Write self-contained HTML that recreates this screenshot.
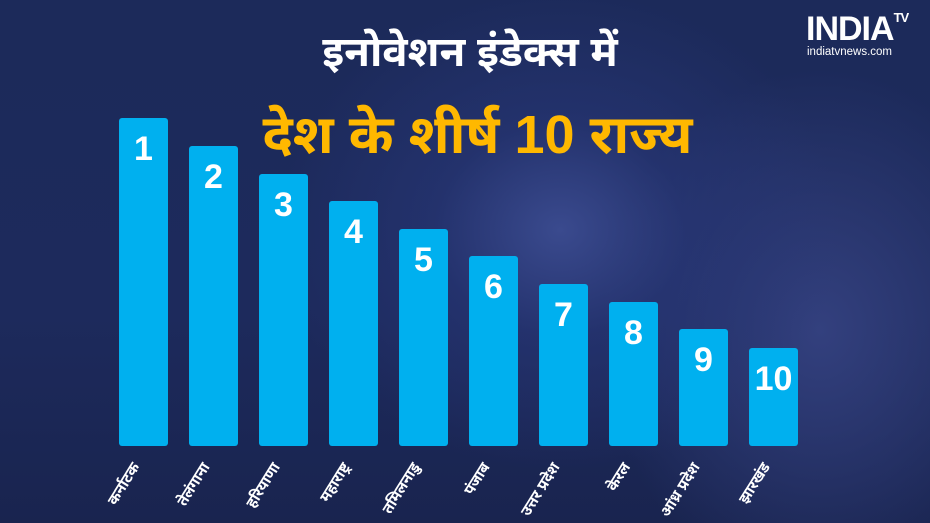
<!DOCTYPE html>
<html><head><meta charset="utf-8"><style>
body{margin:0;width:930px;height:523px;overflow:hidden;font-family:"Liberation Sans","Noto Sans Devanagari","Lohit Devanagari",sans-serif;}
#c{position:relative;width:930px;height:523px;background:radial-gradient(ellipse 280px 240px at 560px 230px,#3a4a8e 0%,rgba(40,55,120,0.6) 45%,rgba(28,40,90,0) 100%),radial-gradient(ellipse 220px 260px at 820px 330px,#33407e 0%,rgba(30,42,95,0) 100%),linear-gradient(180deg,#1c2a5a 0%,#1d2a5c 60%,#19244f 100%);}
.bar{position:absolute;width:49px;background:#00b0ef;border-radius:3px;color:#fff;font-weight:bold;font-size:34px;text-align:center;padding-top:12px;box-sizing:border-box;}
.lb{position:absolute;color:#fff;font-size:15px;font-weight:bold;transform:rotate(-58deg);transform-origin:right center;white-space:nowrap;text-align:right;}
.t1{position:absolute;top:28px;left:0;width:940px;text-align:center;color:#fff;font-size:42px;font-weight:bold;}
.t2{position:absolute;top:104px;left:0;width:955px;text-align:center;color:#ffb800;font-size:54px;font-weight:bold;}
</style></head><body><div id="c">
<div class="t1">इनोवेशन इंडेक्स में</div>
<div class="t2">देश के शीर्ष 10 राज्य</div>
<div style="position:absolute;left:806px;top:10px;color:#fff;font-weight:bold;font-size:34px;letter-spacing:-1px;">INDIA<span style="font-size:13px;vertical-align:top;">TV</span></div>
<div style="position:absolute;left:807px;top:46px;color:#fff;font-size:11.5px;">indiatvnews.com</div>
<div class="bar" style="left:119px;top:118px;height:328px">1</div>
<div class="bar" style="left:189px;top:146px;height:300px">2</div>
<div class="bar" style="left:259px;top:174px;height:272px">3</div>
<div class="bar" style="left:329px;top:201px;height:245px">4</div>
<div class="bar" style="left:399px;top:229px;height:217px">5</div>
<div class="bar" style="left:469px;top:256px;height:190px">6</div>
<div class="bar" style="left:539px;top:284px;height:162px">7</div>
<div class="bar" style="left:609px;top:302px;height:144px">8</div>
<div class="bar" style="left:679px;top:329px;height:117px">9</div>
<div class="bar" style="left:749px;top:348px;height:98px">10</div>
<div class="lb" style="right:792px;top:455px">कर्नाटक</div>
<div class="lb" style="right:722px;top:455px">तेलंगाना</div>
<div class="lb" style="right:652px;top:455px">हरियाणा</div>
<div class="lb" style="right:582px;top:455px">महाराष्ट्र</div>
<div class="lb" style="right:512px;top:455px">तमिलनाडु</div>
<div class="lb" style="right:442px;top:455px">पंजाब</div>
<div class="lb" style="right:372px;top:455px">उत्तर प्रदेश</div>
<div class="lb" style="right:302px;top:455px">केरल</div>
<div class="lb" style="right:232px;top:455px">आंध्र प्रदेश</div>
<div class="lb" style="right:162px;top:455px">झारखंड</div>
</div></body></html>
